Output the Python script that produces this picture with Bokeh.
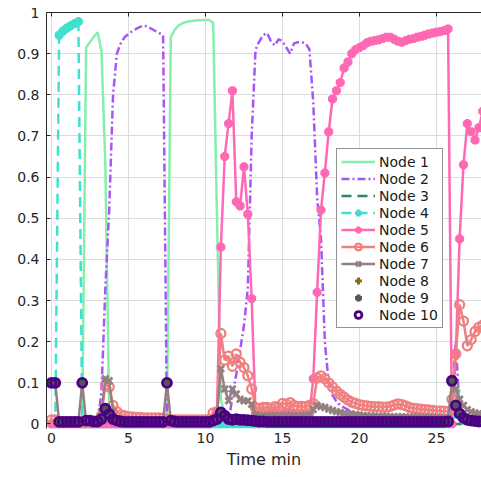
from bokeh.plotting import figure
from bokeh.models import (ColumnDataSource, LinearAxis, Legend, LegendItem,
                          FixedTicker, CustomJSTickFormatter, Span)
from bokeh.embed import file_html
from bokeh.resources import INLINE

# ---------------- data ----------------
time_min = [
    0, 0.25, 0.5, 0.75, 1, 1.25, 1.5, 1.75, 2, 2.25, 2.5, 2.75,
    3, 3.25, 3.5, 3.75, 4, 4.25, 4.5, 4.75, 5, 5.25, 5.5, 5.75,
    6, 6.25, 6.5, 6.75, 7, 7.25, 7.5, 7.75, 8, 8.25, 8.5, 8.75,
    9, 9.25, 9.5, 9.75, 10, 10.25, 10.5, 10.75, 11, 11.25, 11.5, 11.75,
    12, 12.25, 12.5, 12.75, 13, 13.25, 13.5, 13.75, 14, 14.25, 14.5, 14.75,
    15, 15.25, 15.5, 15.75, 16, 16.25, 16.5, 16.75, 17, 17.25, 17.5, 17.75,
    18, 18.25, 18.5, 18.75, 19, 19.25, 19.5, 19.75, 20, 20.25, 20.5, 20.75,
    21, 21.25, 21.5, 21.75, 22, 22.25, 22.5, 22.75, 23, 23.25, 23.5, 23.75,
    24, 24.25, 24.5, 24.75, 25, 25.25, 25.5, 25.75, 26, 26.25, 26.5, 26.75,
    27, 27.25, 27.5, 27.75, 28,
]

node1 = [
    0, 0, 0, 0, 0, 0, 0, 0, 0, 0.915, 0.928, 0.941,
    0.952, 0.905, 0.63, 0.03, 0.01, 0, 0, 0, 0, 0, 0, 0,
    0, 0, 0, 0, 0, 0, 0.02, 0.94, 0.958, 0.968, 0.974, 0.977,
    0.979, 0.98, 0.981, 0.981, 0.982, 0.982, 0.975, 0.5, 0.06, 0.02, 0, 0,
    0, 0, 0, 0, 0, 0, 0, 0, 0, 0, 0, 0,
    0, 0, 0, 0, 0, 0, 0, 0, 0, 0, 0, 0,
    0, 0, 0, 0, 0, 0, 0, 0, 0, 0, 0, 0,
    0, 0, 0, 0, 0, 0, 0, 0, 0, 0, 0, 0,
    0, 0, 0, 0, 0, 0, 0, 0, 0, 0, 0, 0,
    0, 0, 0, 0, 0,
]

node2 = [
    0, 0, 0, 0, 0, 0, 0, 0, 0, 0, 0, 0,
    0, 0.08, 0.33, 0.52, 0.8, 0.9, 0.925, 0.94, 0.948, 0.955, 0.96, 0.965,
    0.968, 0.966, 0.96, 0.955, 0.95, 0.945, 0, 0, 0, 0, 0, 0,
    0, 0, 0, 0, 0, 0, 0, 0, 0, 0, 0, 0.07,
    0.12, 0.18, 0.24, 0.33, 0.7, 0.91, 0.93, 0.945, 0.95, 0.93, 0.92, 0.935,
    0.93, 0.915, 0.9, 0.925, 0.928, 0.928, 0.925, 0.91, 0.78, 0.55, 0.45, 0.2,
    0.1, 0.07, 0.055, 0.045, 0.04, 0.035, 0.03, 0.03, 0.025, 0.022, 0.02, 0.018,
    0.016, 0.015, 0.014, 0.013, 0.012, 0.012, 0.011, 0.011, 0.01, 0.01, 0.01, 0.01,
    0.01, 0.01, 0.01, 0.01, 0.01, 0.01, 0.01, 0.01, 0.06, 0.2, 0.03, 0.02,
    0.02, 0.02, 0.02, 0.02, 0.02,
]

node3 = [
    0, 0, 0, 0, 0, 0, 0, 0, 0, 0, 0, 0,
    0, 0, 0, 0, 0, 0, 0, 0, 0, 0, 0, 0,
    0, 0, 0, 0, 0, 0, 0, 0, 0, 0, 0, 0,
    0, 0, 0, 0, 0, 0, 0, 0, 0, 0, 0, 0,
    0, 0, 0, 0, 0, 0, 0, 0, 0, 0, 0, 0,
    0, 0, 0, 0, 0, 0, 0, 0, 0, 0, 0, 0,
    0, 0, 0, 0, 0, 0, 0, 0, 0, 0, 0, 0,
    0, 0, 0, 0, 0, 0, 0, 0, 0, 0, 0, 0,
    0, 0, 0, 0, 0, 0, 0, 0, 0, 0, 0, 0,
    0, 0, 0, 0, 0,
]

node4 = [
    0, 0, 0.945, 0.955, 0.962, 0.968, 0.973, 0.978, 0, 0, 0, 0,
    0, 0, 0, 0, 0, 0, 0, 0, 0, 0, 0, 0,
    0, 0, 0, 0, 0, 0, 0, 0, 0, 0, 0, 0,
    0, 0, 0, 0, 0, 0, 0, 0, 0, 0, 0, 0,
    0, 0, 0, 0, 0, 0, 0, 0, 0, 0, 0, 0,
    0, 0, 0, 0, 0, 0, 0, 0, 0, 0, 0, 0,
    0, 0, 0, 0, 0, 0, 0, 0, 0, 0, 0, 0,
    0, 0, 0, 0, 0, 0, 0, 0, 0, 0, 0, 0,
    0, 0, 0, 0, 0, 0, 0, 0, 0.02, 0.08, 0.02, 0.01,
    0.01, 0.01, 0.01, 0.01, 0.01,
]

node5 = [
    0, 0, 0, 0, 0, 0, 0, 0, 0, 0, 0, 0,
    0, 0, 0, 0, 0, 0, 0, 0, 0, 0, 0, 0,
    0, 0, 0, 0, 0, 0, 0, 0, 0, 0, 0, 0,
    0, 0, 0, 0, 0, 0, 0.01, 0.03, 0.43, 0.65, 0.73, 0.81,
    0.54, 0.53, 0.625, 0.51, 0.305, 0.025, 0.025, 0.025, 0.025, 0.025, 0.027, 0.025,
    0.025, 0.028, 0.026, 0.025, 0.025, 0.025, 0.026, 0.025, 0.11, 0.32, 0.52, 0.61,
    0.71, 0.79, 0.81, 0.83, 0.865, 0.88, 0.9, 0.91, 0.915, 0.92, 0.927, 0.93,
    0.932, 0.934, 0.937, 0.94, 0.94, 0.935, 0.93, 0.928, 0.932, 0.935, 0.937, 0.94,
    0.942, 0.945, 0.948, 0.95, 0.952, 0.954, 0.956, 0.96, 0.0, 0.17, 0.45, 0.63,
    0.73, 0.71, 0.69, 0.72, 0.76,
]

node6 = [
    0.01, 0.01, 0.006, 0.005, 0.005, 0.005, 0.005, 0.005, 0.006, 0.006, 0.005, 0.005,
    0.006, 0.02, 0.095, 0.09, 0.045, 0.03, 0.022, 0.02, 0.018, 0.017, 0.016, 0.016,
    0.015, 0.015, 0.015, 0.015, 0.015, 0.014, 0.012, 0.01, 0.01, 0.01, 0.01, 0.01,
    0.01, 0.01, 0.01, 0.01, 0.01, 0.012, 0.027, 0.03, 0.22, 0.155, 0.165, 0.14,
    0.17, 0.15, 0.137, 0.117, 0.085, 0.04, 0.038, 0.04, 0.04, 0.038, 0.042, 0.04,
    0.05, 0.048, 0.052, 0.045, 0.042, 0.043, 0.042, 0.045, 0.05, 0.112, 0.117, 0.11,
    0.1, 0.09, 0.08, 0.072, 0.065, 0.058, 0.053, 0.05, 0.047, 0.045, 0.044, 0.043,
    0.042, 0.042, 0.041, 0.041, 0.043, 0.046, 0.049, 0.047, 0.044, 0.04, 0.038, 0.037,
    0.036, 0.035, 0.034, 0.033, 0.032, 0.032, 0.031, 0.03, 0.06, 0.17, 0.29, 0.25,
    0.19, 0.205, 0.225, 0.235, 0.24,
]

node7 = [
    0.1, 0.1, 0.005, 0.005, 0.005, 0.005, 0.005, 0.005, 0.1, 0.006, 0.006, 0.006,
    0.006, 0.03, 0.11, 0.105, 0.03, 0.012, 0.009, 0.008, 0.007, 0.007, 0.007, 0.007,
    0.007, 0.007, 0.007, 0.007, 0.007, 0.007, 0.1, 0.007, 0.006, 0.006, 0.006, 0.006,
    0.006, 0.006, 0.006, 0.006, 0.006, 0.006, 0.01, 0.02, 0.134, 0.085, 0.056, 0.085,
    0.073, 0.06, 0.056, 0.056, 0.048, 0.022, 0.02, 0.02, 0.02, 0.02, 0.021, 0.02,
    0.021, 0.022, 0.021, 0.02, 0.02, 0.02, 0.021, 0.022, 0.035, 0.045, 0.042, 0.04,
    0.036, 0.033, 0.03, 0.028, 0.026, 0.025, 0.024, 0.023, 0.022, 0.021, 0.02, 0.02,
    0.019, 0.019, 0.019, 0.019, 0.018, 0.018, 0.018, 0.018, 0.017, 0.017, 0.017, 0.017,
    0.016, 0.016, 0.016, 0.016, 0.015, 0.015, 0.015, 0.015, 0.1, 0.085, 0.06, 0.045,
    0.035, 0.03, 0.027, 0.025, 0.024,
]

node8 = [
    0.1, 0.1, 0.005, 0.005, 0.005, 0.005, 0.005, 0.005, 0.1, 0.008, 0.008, 0.006,
    0.006, 0.012, 0.037, 0.024, 0.012, 0.008, 0.006, 0.005, 0.005, 0.005, 0.005, 0.005,
    0.005, 0.005, 0.005, 0.005, 0.005, 0.005, 0.1, 0.008, 0.006, 0.005, 0.005, 0.005,
    0.005, 0.005, 0.005, 0.005, 0.005, 0.005, 0.008, 0.012, 0.028, 0.02, 0.012, 0.01,
    0.012, 0.01, 0.01, 0.009, 0.008, 0.007, 0.006, 0.006, 0.005, 0.005, 0.005, 0.005,
    0.005, 0.005, 0.005, 0.005, 0.005, 0.005, 0.005, 0.005, 0.005, 0.005, 0.005, 0.005,
    0.005, 0.005, 0.005, 0.005, 0.005, 0.005, 0.005, 0.005, 0.005, 0.005, 0.005, 0.005,
    0.005, 0.005, 0.005, 0.005, 0.005, 0.005, 0.005, 0.005, 0.005, 0.005, 0.005, 0.005,
    0.005, 0.005, 0.005, 0.005, 0.005, 0.005, 0.005, 0.006, 0.105, 0.045, 0.025, 0.015,
    0.01, 0.008, 0.007, 0.006, 0.006,
]

node9 = [
    0.1, 0.1, 0.005, 0.005, 0.005, 0.005, 0.005, 0.005, 0.1, 0.008, 0.008, 0.006,
    0.006, 0.012, 0.037, 0.024, 0.012, 0.008, 0.006, 0.005, 0.005, 0.005, 0.005, 0.005,
    0.005, 0.005, 0.005, 0.005, 0.005, 0.005, 0.1, 0.008, 0.006, 0.005, 0.005, 0.005,
    0.005, 0.005, 0.005, 0.005, 0.005, 0.005, 0.008, 0.012, 0.028, 0.02, 0.012, 0.01,
    0.012, 0.01, 0.01, 0.009, 0.008, 0.007, 0.006, 0.006, 0.005, 0.005, 0.005, 0.005,
    0.005, 0.005, 0.005, 0.005, 0.005, 0.005, 0.005, 0.005, 0.005, 0.005, 0.005, 0.005,
    0.005, 0.005, 0.005, 0.005, 0.005, 0.005, 0.005, 0.005, 0.005, 0.005, 0.005, 0.005,
    0.005, 0.005, 0.005, 0.005, 0.005, 0.005, 0.005, 0.005, 0.005, 0.005, 0.005, 0.005,
    0.005, 0.005, 0.005, 0.005, 0.005, 0.005, 0.005, 0.006, 0.105, 0.045, 0.025, 0.015,
    0.01, 0.008, 0.007, 0.006, 0.006,
]

node10 = [
    0.1, 0.1, 0.005, 0.005, 0.005, 0.005, 0.005, 0.005, 0.1, 0.008, 0.008, 0.006,
    0.006, 0.012, 0.037, 0.024, 0.012, 0.008, 0.006, 0.005, 0.005, 0.005, 0.005, 0.005,
    0.005, 0.005, 0.005, 0.005, 0.005, 0.005, 0.1, 0.008, 0.006, 0.005, 0.005, 0.005,
    0.005, 0.005, 0.005, 0.005, 0.005, 0.005, 0.008, 0.012, 0.028, 0.02, 0.012, 0.01,
    0.012, 0.01, 0.01, 0.009, 0.008, 0.007, 0.006, 0.006, 0.005, 0.005, 0.005, 0.005,
    0.005, 0.005, 0.005, 0.005, 0.005, 0.005, 0.005, 0.005, 0.005, 0.005, 0.005, 0.005,
    0.005, 0.005, 0.005, 0.005, 0.005, 0.005, 0.005, 0.005, 0.005, 0.005, 0.005, 0.005,
    0.005, 0.005, 0.005, 0.005, 0.005, 0.005, 0.005, 0.005, 0.005, 0.005, 0.005, 0.005,
    0.005, 0.005, 0.005, 0.005, 0.005, 0.005, 0.005, 0.006, 0.105, 0.045, 0.025, 0.015,
    0.01, 0.008, 0.007, 0.006, 0.006,
]

x_ticks = [0, 5, 10, 15, 20, 25]
y_ticks = [0, 0.1, 0.2, 0.3, 0.4, 0.5, 0.6, 0.7, 0.8, 0.9, 1]
x_label = "Time min"
labels = ["Node 1", "Node 2", "Node 3", "Node 4", "Node 5",
          "Node 6", "Node 7", "Node 8", "Node 9", "Node 10"]

# ---------------- styling ----------------
FONT = "DejaVu Sans"
AX = "#262626"
C1 = "#86efac"
C2 = "#a855f7"
C3 = "#2e8b57"
C4 = "#40e0d0"
C5 = "#ff69b4"
C6 = "#f08080"
C7 = "#958080"
C8 = "#8b6914"
C9 = "#555555"
C10 = "#4b0082"

src = ColumnDataSource(dict(t=time_min, n1=node1, n2=node2, n3=node3, n4=node4,
                            n5=node5, n6=node6, n7=node7, n8=node8, n9=node9,
                            n10=node10))

# frame is extended a few pixels below y=0 so markers on the baseline are not clipped
p = figure(width=481, height=477, x_range=(-0.32, 27.92), y_range=(-0.011, 1),
           output_backend="svg", toolbar_location=None,
           min_border_left=46, min_border_right=0, min_border_top=12,
           min_border_bottom=49)
p.outline_line_color = None
p.background_fill_color = "white"
p.border_fill_color = "white"

xa = p.xaxis[0]
ya = p.yaxis[0]
xa.ticker = FixedTicker(ticks=x_ticks)
ya.ticker = FixedTicker(ticks=y_ticks)
ya.formatter = CustomJSTickFormatter(code="return String(Math.round(tick*10)/10);")
for ax in (xa, ya):
    ax.major_tick_in = 4
    ax.major_tick_out = 0
    ax.minor_tick_line_color = None
    ax.axis_line_color = AX
    ax.major_tick_line_color = AX
    ax.major_label_text_font = FONT
    ax.major_label_text_font_size = "14px"
    ax.major_label_text_color = AX
xa.axis_line_color = None
xa.major_tick_line_color = None
xa.major_label_standoff = 4
ya.major_label_standoff = 7
xa.axis_label = x_label
xa.axis_label_text_font = FONT
xa.axis_label_text_font_size = "16px"
xa.axis_label_text_font_style = "normal"
xa.axis_label_text_color = AX
xa.axis_label_standoff = 4

top = LinearAxis(ticker=FixedTicker(ticks=x_ticks),
                 formatter=CustomJSTickFormatter(code="return '';"),
                 major_tick_in=4, major_tick_out=0, axis_line_color=AX,
                 major_tick_line_color=AX, minor_tick_line_color=None,
                 major_label_text_font_size="0px", major_label_standoff=0)
p.add_layout(top, "above")

p.xgrid.ticker = FixedTicker(ticks=x_ticks)
p.ygrid.ticker = FixedTicker(ticks=y_ticks)
p.grid.grid_line_color = "#dcdcdc"
p.grid.grid_line_width = 1

# bottom spine at y = 0
p.add_layout(Span(location=0, dimension="width", line_color=AX, line_width=1,
                  level="underlay"))

LW = 2.5
r1 = p.line("t", "n1", source=src, line_color=C1, line_width=LW)
r2 = p.line("t", "n2", source=src, line_color=C2, line_width=LW, line_dash="8 3 2 3")
r3 = p.line("t", "n3", source=src, line_color=C3, line_width=LW, line_dash="10 6")
r4l = p.line("t", "n4", source=src, line_color=C4, line_width=LW, line_dash="10 6")
r4m = p.scatter("t", "n4", source=src, marker="asterisk", size=9, line_color=C4, line_width=3.8)
r5l = p.line("t", "n5", source=src, line_color=C5, line_width=LW)
r5m = p.scatter("t", "n5", source=src, marker="asterisk", size=9, line_color=C5, line_width=3.8)
r6l = p.line("t", "n6", source=src, line_color=C6, line_width=LW)
r6m = p.scatter("t", "n6", source=src, marker="circle", size=9, line_color=C6,
                line_width=2.3, fill_color=None)
r7l = p.line("t", "n7", source=src, line_color=C7, line_width=LW)
r7m = p.scatter("t", "n7", source=src, marker="x", size=9, line_color=C7, line_width=2.8)
r8m = p.scatter("t", "n8", source=src, marker="cross", size=9, line_color=C8, line_width=3)
r9m = p.scatter("t", "n9", source=src, marker="asterisk", size=9, line_color=C9, line_width=3.8)
r10m = p.scatter("t", "n10", source=src, marker="circle", size=9, line_color=C10,
                 line_width=2.8, fill_color=None)

groups = [[r1], [r2], [r3], [r4l, r4m], [r5l, r5m], [r6l, r6m], [r7l, r7m],
          [r8m], [r9m], [r10m]]
legend = Legend(items=[LegendItem(label=l, renderers=g) for l, g in zip(labels, groups)],
                location=(290, 100), orientation="vertical",
                glyph_width=34, glyph_height=17, label_height=17, label_standoff=4,
                padding=4, spacing=0, margin=0,
                label_text_font=FONT, label_text_font_size="14px",
                label_text_color="#1a1a1a",
                border_line_color=AX, border_line_width=1,
                background_fill_color="white", background_fill_alpha=1)
p.add_layout(legend, "center")

open("out.html", "w").write(file_html(p, INLINE))
